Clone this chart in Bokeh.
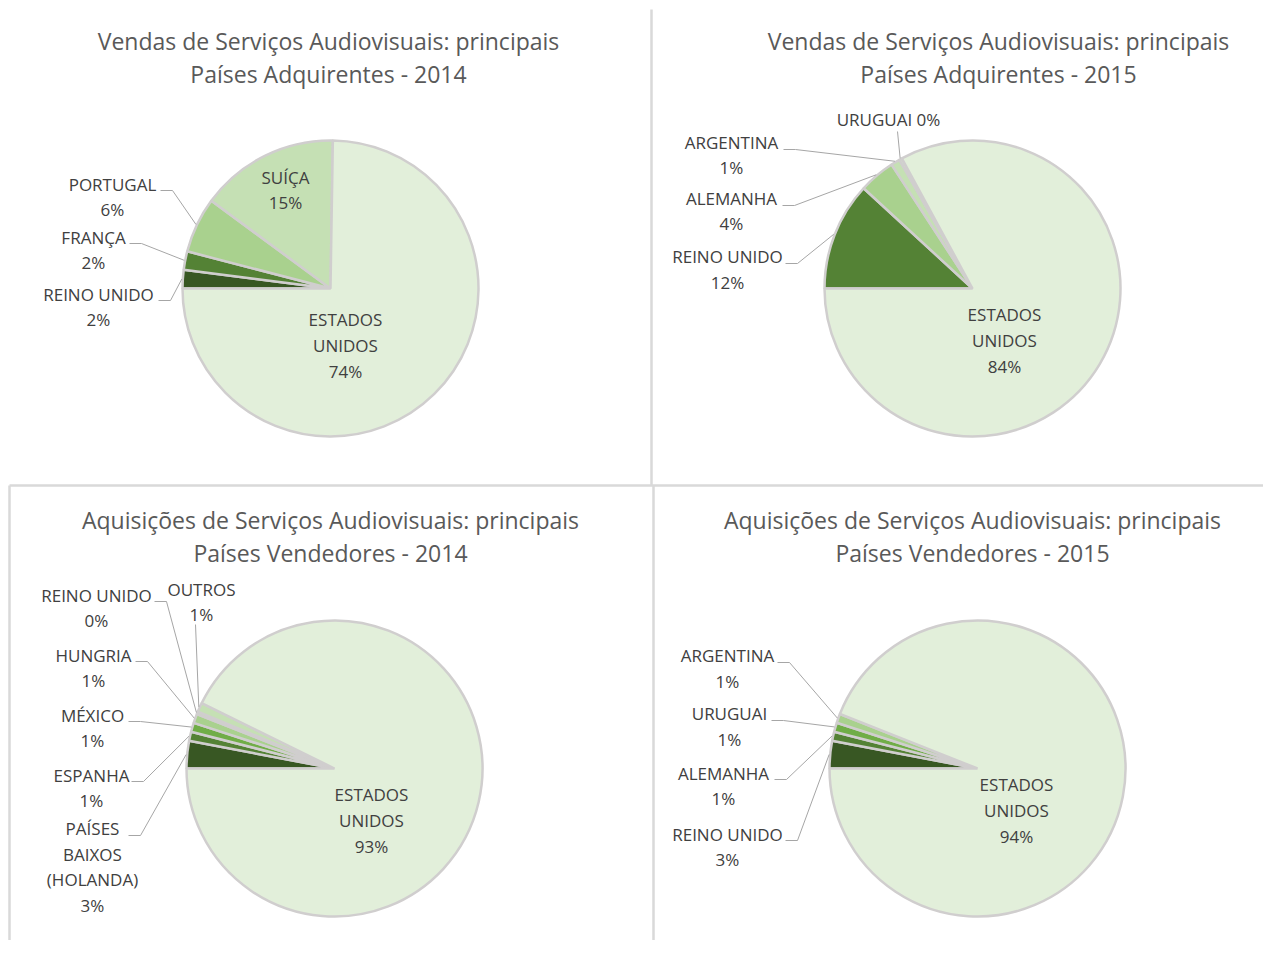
import math
from bokeh.plotting import figure
from bokeh.models import Range1d, ColumnDataSource
from bokeh.core.properties import value
from bokeh.embed import file_html
from bokeh.resources import INLINE

# ---------------- data ----------------
titles = [
    "Vendas de Serviços Audiovisuais: principais\nPaíses Adquirentes - 2014",
    "Vendas de Serviços Audiovisuais: principais\nPaíses Adquirentes - 2015",
    "Aquisições de Serviços Audiovisuais: principais\nPaíses Vendedores - 2014",
    "Aquisições de Serviços Audiovisuais: principais\nPaíses Vendedores - 2015",
]
sales_2014_countries = ["REINO UNIDO", "FRANÇA", "PORTUGAL", "SUÍÇA", "ESTADOS UNIDOS"]
sales_2014_values = [2, 2, 6, 15, 74]
sales_2015_countries = ["REINO UNIDO", "ALEMANHA", "ARGENTINA", "URUGUAI", "ESTADOS UNIDOS"]
sales_2015_values = [12, 4, 1, 0.3, 84]
purch_2014_countries = ["PAÍSES BAIXOS (HOLANDA)", "ESPANHA", "MÉXICO", "HUNGRIA",
                        "REINO UNIDO", "OUTROS", "ESTADOS UNIDOS"]
purch_2014_values = [3, 1, 1, 1, 0.3, 1, 93]
purch_2015_countries = ["REINO UNIDO", "ALEMANHA", "URUGUAI", "ARGENTINA", "ESTADOS UNIDOS"]
purch_2015_values = [3, 1, 1, 1, 94]

# ---------------- styles / layout ----------------
wrap = {"ESTADOS UNIDOS": "ESTADOS\nUNIDOS", "PAÍSES BAIXOS (HOLANDA)": "PAÍSES\nBAIXOS\n(HOLANDA)"}
colors = [
    ["#385723", "#548235", "#A9D18E", "#C5E0B4", "#E2EFDA"],
    ["#548235", "#A9D18E", "#C5E0B4", "#D5E8C9", "#E2EFDA"],
    ["#385723", "#548235", "#70AD47", "#A9D18E", "#C5E0B4", "#C5E0B4", "#E2EFDA"],
    ["#385723", "#548235", "#70AD47", "#A9D18E", "#E2EFDA"],
]
centers = [(330, 288), (972, 288), (334, 768), (977, 768)]
radius = 148
title_pos = [(328, 57), (998, 57), (330, 536), (972, 536)]
# label: (block centre x, block centre y, leader kind, leader start x, leader start y, single-line)
labels = [
    [(98, 306.5, "h", 158, 300, False), (93, 249.5, "h", 129, 243, False),
     (112, 196.5, "h", 160, 190, False), (285, 189.5, None, 0, 0, False),
     (345, 345, None, 0, 0, False)],
    [(727, 269, "h", 785, 263, False), (731, 210.5, "h", 782, 205, False),
     (731, 154.5, "h", 783, 149, False), (888, 119, "v", 897, 131, True),
     (1004, 340, None, 0, 0, False)],
    [(92, 866.5, "h", 128, 835, False), (91, 787.5, "h", 131, 781, False),
     (92, 727.5, "h", 128, 721, False), (93, 667.5, "h", 135, 661, False),
     (96, 607.5, "h", 154, 601, False), (201, 601.5, "v", 195, 624, False),
     (371, 820, None, 0, 0, False)],
    [(727, 846.5, "h", 785, 840, False), (723, 785.5, "h", 774, 779, False),
     (729, 726, "h", 771, 720, False), (727, 668, "h", 777, 662, False),
     (1016, 810, None, 0, 0, False)],
]

charts = [
    (sales_2014_countries, sales_2014_values),
    (sales_2015_countries, sales_2015_values),
    (purch_2014_countries, purch_2014_values),
    (purch_2015_countries, purch_2015_values),
]

W, H = 1263, 940
p = figure(width=W, height=H, output_backend="svg", toolbar_location=None,
           x_range=Range1d(0, W), y_range=Range1d(-H, 0),
           min_border=0, outline_line_color=None, background_fill_color="white")
p.axis.visible = False
p.grid.visible = False

# panel borders
p.line([651, 651], [-9, -485], line_color="#D9D9D9", line_width=2.5)
p.line([9, 1290], [-485, -485], line_color="#D9D9D9", line_width=2.5)
p.line([653, 653], [-485, -960], line_color="#D9D9D9", line_width=2.5)
p.line([9, 9], [-485, -960], line_color="#D9D9D9", line_width=2.5)

font = value("Open Sans")
for ci, (names, vals) in enumerate(charts):
    cx, cy = centers[ci]
    total = float(sum(vals))
    cum = 0.0
    ws = dict(x=[], y=[], s=[], e=[], c=[])
    lx, ly, lt = [], [], []
    mxs, mys = [], []
    for i, (n, v) in enumerate(zip(names, vals)):
        a0 = 180 - cum / total * 360
        a1 = 180 - (cum + v) / total * 360
        cum += v
        ws["x"].append(cx); ws["y"].append(-cy)
        ws["s"].append(math.radians(a1)); ws["e"].append(math.radians(a0))
        ws["c"].append(colors[ci][i])
        bx, by, kind, sx, sy, single = labels[ci][i]
        pct = f"{round(v)}%"
        txt = (n + " " + pct) if single else (wrap.get(n, n) + "\n" + pct)
        lx.append(bx); ly.append(-by); lt.append(txt)
        if kind:
            mid = math.radians((a0 + a1) / 2)
            rx = cx + (radius + 1) * math.cos(mid)
            ry = cy - (radius + 1) * math.sin(mid)
            if kind == "h":
                mxs.append([sx, sx + 12, rx]); mys.append([-sy, -sy, -ry])
            else:
                mxs.append([sx, rx]); mys.append([-sy, -ry])
    p.wedge(x="x", y="y", radius=radius, start_angle="s", end_angle="e",
            fill_color="c", line_color="#D0CECE", line_width=2.5,
            source=ColumnDataSource(ws))
    if mxs:
        p.multi_line(mxs, mys, line_color="#A6A6A6", line_width=1)
    p.text(x=lx, y=ly, text=lt, text_align="center", text_baseline="middle",
           text_font=font, text_font_size="17px", text_color="#404040",
           text_line_height=1.12)
    tx, ty = title_pos[ci]
    p.text(x=[tx], y=[-ty], text=[titles[ci]], text_align="center", text_baseline="middle",
           text_font=font, text_font_size="23px", text_color="#595959",
           text_line_height=1.02)

open("out.html", "w").write(file_html(p, INLINE))
